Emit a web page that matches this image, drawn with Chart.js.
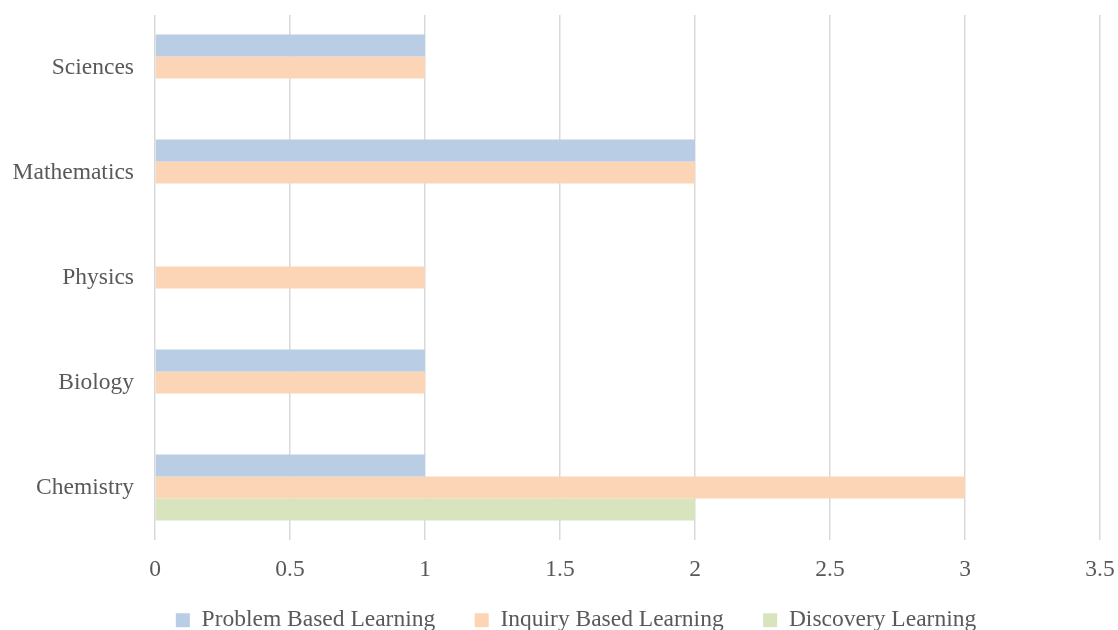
<!DOCTYPE html>
<html>
<head>
<meta charset="utf-8">
<script src="https://cdn.jsdelivr.net/npm/chart.js@4/dist/chart.umd.min.js"></script>
<style>
html,body{margin:0;padding:0;background:#fff;overflow:hidden;}
#wrap{width:1118px;height:630px;overflow:hidden;position:relative;}
#c{display:block;}
</style>
</head>
<body>
<div id="wrap"><canvas id="c" width="1118" height="642" style="width:1118px;height:642px"></canvas></div>
<script>
const categories = ['Sciences', 'Mathematics', 'Physics', 'Biology', 'Chemistry'];
const problemBased = [1, 2, 0, 1, 1];
const inquiryBased = [1, 2, 1, 1, 3];
const discovery = [0, 0, 0, 0, 2];
const seriesNames = ['Problem Based Learning', 'Inquiry Based Learning', 'Discovery Learning'];
const xMin = 0, xMax = 3.5, xStep = 0.5;

const FONT = '"Liberation Serif", "Times New Roman", serif';
const TXT = '#595959';
const LEGEND_SHIFT = 26;

const legendShift = {
  id: 'legendShift',
  afterLayout(chart) {
    if (chart.legend) {
      chart.legend.left += LEGEND_SHIFT;
      chart.legend.right += LEGEND_SHIFT;
    }
  }
};

new Chart(document.getElementById('c'), {
  type: 'bar',
  data: {
    labels: categories,
    datasets: [
      { label: seriesNames[0], data: problemBased, backgroundColor: '#b9cde5' },
      { label: seriesNames[1], data: inquiryBased, backgroundColor: '#fbd5b5' },
      { label: seriesNames[2], data: discovery, backgroundColor: '#d7e4bd' }
    ]
  },
  plugins: [legendShift],
  options: {
    indexAxis: 'y',
    responsive: false,
    animation: false,
    devicePixelRatio: 1,
    categoryPercentage: 0.63,
    barPercentage: 1,
    layout: { padding: { top: 15, right: 18, left: 0, bottom: 0 } },
    plugins: {
      tooltip: { enabled: false },
      legend: {
        position: 'bottom',
        labels: {
          font: { family: FONT, size: 23.5 },
          color: TXT,
          boxWidth: 14,
          boxHeight: 14,
          padding: 39.5
        }
      }
    },
    scales: {
      x: {
        min: xMin, max: xMax,
        ticks: {
          stepSize: xStep, color: TXT, font: { family: FONT, size: 23.5 },
          mirror: true, padding: -44, maxRotation: 0,
          callback: v => String(v)
        },
        grid: { color: '#d9d9d9', lineWidth: 1.5, drawTicks: false },
        border: { display: false },
        afterFit: s => { s.height = 29; s.paddingLeft = 0; s.paddingRight = 0; }
      },
      y: {
        ticks: { color: TXT, font: { family: FONT, size: 23.5 }, padding: 21 },
        grid: { display: false, drawTicks: false },
        border: { display: false },
        afterFit: s => { s.width = 155; s.paddingTop = 0; s.paddingBottom = 0; }
      }
    }
  }
});
</script>
</body>
</html>
